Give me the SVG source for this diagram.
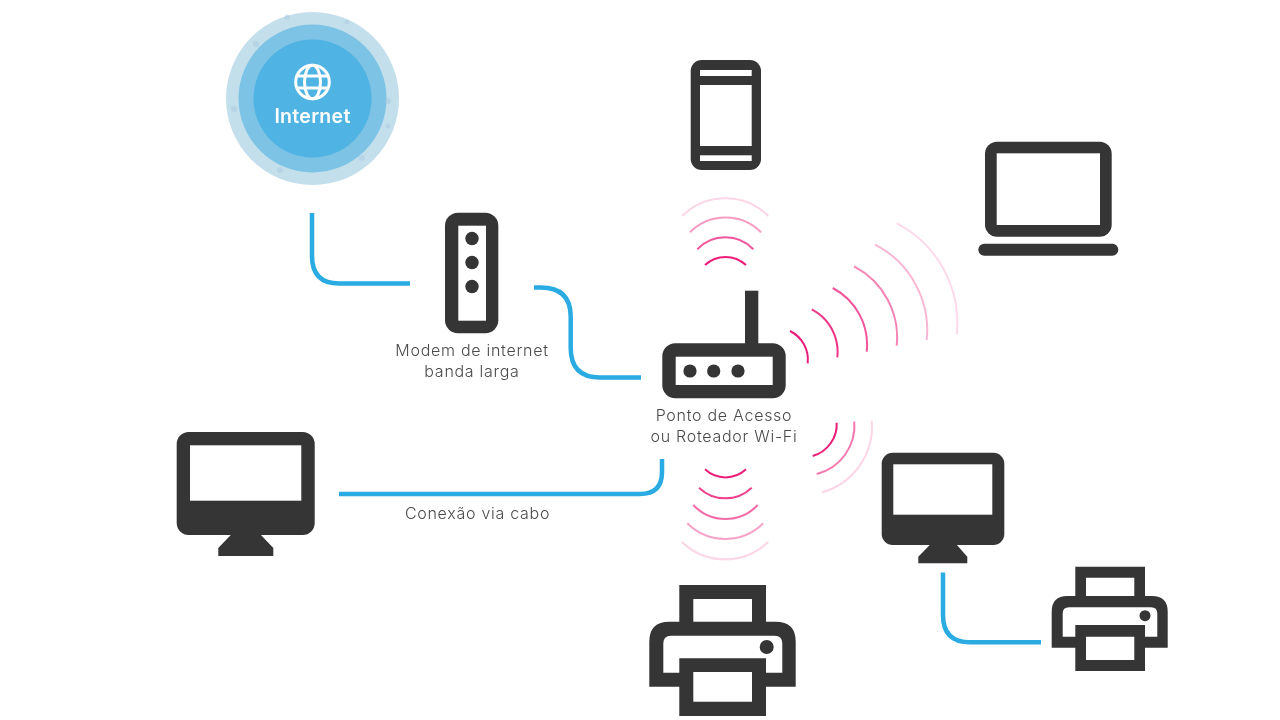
<svg xmlns="http://www.w3.org/2000/svg" width="1280" height="720" viewBox="0 0 1280 720">
<style>
.d{fill:#343434}
.w{fill:#fff}
.c{fill:none;stroke:#29abe2;stroke-width:4.5;stroke-linecap:butt}
.a{fill:none;stroke:#ec1e79;stroke-width:2}
.t{font-family:Inter,"Liberation Sans",sans-serif;font-size:16px;font-weight:300;fill:#4a4a4a;text-anchor:middle;letter-spacing:.72px}
.s{fill:#a9c6e0;opacity:.45}
</style>
<defs><filter id="soft" x="0" y="0" width="100%" height="100%"><feGaussianBlur stdDeviation="0.45"/></filter></defs>
<rect width="1280" height="720" fill="#fff"/>
<g filter="url(#soft)">
<g id="internet">
<circle cx="312.5" cy="98.500" r="86.500" fill="#c3dfec"/>
<circle cx="312.5" cy="98.500" r="74" fill="#7cc3e5"/>
<circle cx="312.5" cy="98.500" r="59" fill="#4fb3e3"/>
<circle class="s" cx="234" cy="109" r="3"/><circle class="s" cx="256" cy="44" r="3"/><circle class="s" cx="280" cy="170" r="3"/><circle class="s" cx="347" cy="22" r="2.500"/><circle class="s" cx="388" cy="101" r="3"/><circle class="s" cx="362" cy="158" r="3"/><circle class="s" cx="388" cy="126" r="2.500"/><circle class="s" cx="287" cy="17" r="2.500"/>
<g fill="none" stroke="#fff" stroke-width="3">
<circle cx="312.500" cy="82" r="16.800"/>
<ellipse cx="312.500" cy="82" rx="8" ry="16.800"/>
<path d="M296 76H329M296 88H329"/>
</g>
<text x="312.500" y="122.500" font-family="Inter,'Liberation Sans',sans-serif" font-size="19.500" font-weight="600" letter-spacing=".3" fill="#fff" text-anchor="middle">Internet</text>
</g>
<g id="connectors">
<path class="c" d="M312 213V256Q312 283.500 339 283.500H410"/>
<path class="c" d="M534 287.500H541Q570.700 287.500 570.700 317V348Q570.700 377.500 600 377.500H641"/>
<path class="c" d="M339 494H640Q662 494 662 472V459"/>
<path class="c" d="M943 572.500V615Q943 642.300 970 642.300H1041"/>
</g>
<g id="wifi-signals">
<g class="a">
<path d="M705 265A30 30 0 0 1 746 265"/>
<path d="M697.300 249.300A38.700 38.700 0 0 1 753.300 249.300" opacity=".75"/>
<path d="M690 232.300A50 50 0 0 1 761 232.300" opacity=".45"/>
<path d="M682.300 216A61 61 0 0 1 768.300 216" opacity=".18"/>
<path d="M705 469.300A30 30 0 0 0 746 469.300"/>
<path d="M699 487.700A38 38 0 0 0 751.700 487.700" opacity=".85"/>
<path d="M693.300 505A44 44 0 0 0 757.700 505" opacity=".65"/>
<path d="M687.300 523.300A54 54 0 0 0 763.300 523.300" opacity=".4"/>
<path d="M681.700 541.700A62 62 0 0 0 768.300 541.700" opacity=".18"/>
<path d="M790 331A32 32 0 0 1 807.700 363.300"/>
<path d="M811.700 309.300A48 48 0 0 1 837.300 357.300" opacity=".9"/>
<path d="M832.700 288A64 64 0 0 1 866.700 351.700" opacity=".75"/>
<path d="M854 266.300A80 80 0 0 1 896.700 345.700" opacity=".55"/>
<path d="M875 244.700A96 96 0 0 1 926.700 340" opacity=".32"/>
<path d="M896.700 223.300A112 112 0 0 1 956.700 334.300" opacity=".15"/>
<path d="M836.700 422.700A33 33 0 0 1 812.700 456"/>
<path d="M854.300 421.700A50 50 0 0 1 816.700 474" opacity=".6"/>
<path d="M871.700 420.700A68 68 0 0 1 821.700 492.300" opacity=".18"/>
</g>
</g>
<g id="modem">
<rect class="d" x="445" y="212.700" width="53.300" height="120.600" rx="13"/>
<rect class="w" x="458.300" y="225.700" width="27.700" height="95"/>
<circle class="d" cx="472" cy="238.500" r="6.700"/><circle class="d" cx="472" cy="262.500" r="6.700"/><circle class="d" cx="472" cy="286.500" r="6.700"/>
<text class="t" x="472" y="356">Modem de internet</text>
<text class="t" x="472" y="377">banda larga</text>
</g>
<g id="router">
<rect class="d" x="745" y="290.700" width="13.300" height="60"/>
<rect class="d" x="662.300" y="343.300" width="123.400" height="55" rx="13"/>
<rect class="w" x="675.700" y="356.700" width="97" height="28.300"/>
<circle class="d" cx="690" cy="371" r="6.600"/><circle class="d" cx="713.700" cy="371" r="6.600"/><circle class="d" cx="738" cy="371" r="6.600"/>
<text class="t" x="724" y="421">Ponto de Acesso</text>
<text class="t" x="724" y="442">ou Roteador Wi-Fi</text>
</g>
<g id="phone">
<rect class="d" x="690.700" y="60" width="70.300" height="110" rx="11"/>
<rect class="w" x="700" y="70" width="51.700" height="6"/>
<rect class="w" x="700" y="85" width="51.700" height="61"/>
<rect class="w" x="700" y="155.300" width="51.700" height="5.700"/>
</g>
<g id="laptop">
<rect class="d" x="985" y="141.700" width="126.700" height="95" rx="12"/>
<rect class="w" x="996.700" y="153.300" width="103.300" height="71.700"/>
<rect class="d" x="978.300" y="243.700" width="140" height="12" rx="6"/>
</g>
<g id="desktop-left">
<rect class="d" x="176.700" y="432" width="138" height="103" rx="12"/>
<rect class="w" x="190" y="445.300" width="111.300" height="55.400"/>
<path class="d" d="M231.700 534H260L273.300 548V556H218.300V548Z"/>
<text class="t" x="477.500" y="519">Conexão via cabo</text>
</g>
<g id="desktop-right">
<rect class="d" x="881.700" y="452.700" width="122.600" height="92.300" rx="11"/>
<rect class="w" x="893.300" y="464.300" width="99" height="50.400"/>
<path class="d" d="M930.700 544H956L967.300 556.700V563.300H918.300V556.700Z"/>
</g>
<g id="printer-large">
<path class="d" fill-rule="evenodd" d="M679.300 585H766V621.700H775.700Q795.700 621.700 795.700 641.700V686.700H766V716H679.300V686.700H649.300V641.700Q649.300 621.700 669.300 621.700H679.300ZM693.300 599V621.700H752V599ZM671 635.700Q663.300 635.700 663.300 643.400V672.700H679.300V658.300H766V672.700H782.300V643.400Q782.300 635.700 774.600 635.700ZM693.300 672V701.700H752V672Z"/>
<circle class="d" cx="766.700" cy="647" r="7"/>
</g>
<g id="printer-small">
<path class="d" fill-rule="evenodd" d="M1075.300 566.700H1145V596H1152Q1167.700 596 1167.700 611.700V647.700H1145V671H1075.300V647.700H1051.700V611.700Q1051.700 596 1067.400 596H1075.300ZM1086 577.700V596H1134.300V577.700ZM1069 607.300Q1062.700 607.300 1062.700 613.600V636.700H1075.300V625H1145V636.700H1157.300V613.600Q1157.300 607.300 1151 607.300ZM1086 636.700V660H1134.300V636.700Z"/>
<circle class="d" cx="1145" cy="615.700" r="5.500"/>
</g>
</g>
</svg>
